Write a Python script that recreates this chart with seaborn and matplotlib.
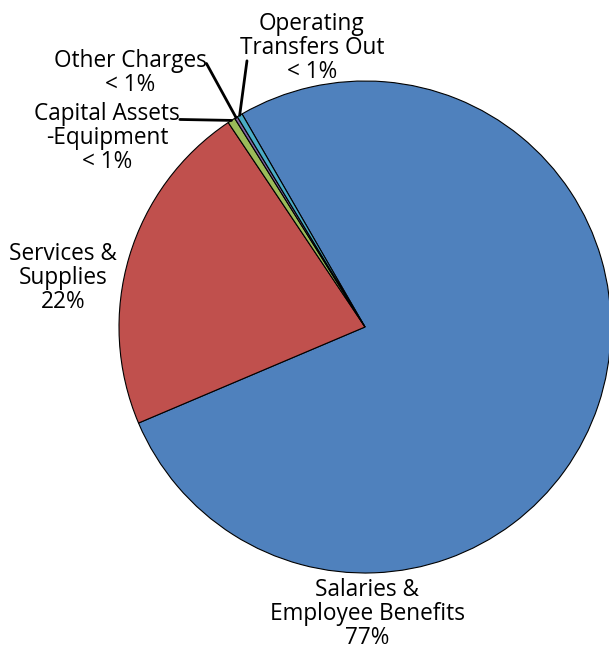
import numpy as np
import matplotlib
matplotlib.use("Agg")
import matplotlib.pyplot as plt
import seaborn as sns

# Budget shares by expenditure category (percent)
categories = [
    "Salaries &\nEmployee Benefits",
    "Services &\nSupplies",
    "Capital Assets\n-Equipment",
    "Other Charges",
    "Operating\nTransfers Out",
]
shares = [76.95, 22.0, 0.50, 0.20, 0.35]
share_labels = ["77%", "22%", "< 1%", "< 1%", "< 1%"]
colors = ["#4F81BD", "#C0504D", "#9BBB59", "#8064A2", "#4BACC6"]

sns.set_theme(style="white")
plt.rcParams["font.family"] = ["Open Sans", "DejaVu Sans"]
plt.rcParams["text.color"] = "black"
FS = 16.3
LS = 0.98

W, H = 609, 652
fig = plt.figure(figsize=(W / 100, H / 100), dpi=100)
cx, cy, r = 365, 327, 246
ax = fig.add_axes([(cx - r) / W, (H - cy - r) / H, 2 * r / W, 2 * r / H])
ax.set_aspect("equal")
ax.axis("off")

wedges, _ = ax.pie(
    shares,
    colors=colors,
    startangle=120,
    counterclock=False,
    radius=1.0,
    wedgeprops=dict(edgecolor="black", linewidth=0.8),
)
ax.set_xlim(-1, 1)
ax.set_ylim(-1, 1)


def px(x, y):
    """Convert a pixel position to pie data coordinates."""
    return ((x - cx) / r, (cy - y) / r)


# label centres (pixels) and leader-line anchors on the text box
label_pos = [(367, 614), (63, 278), (107, 138), (130, 73), (312, 48)]
leader = [None, None, (1.0, 0.76), (1.0, 0.70), (0.05, 0.32)]

for w, cat, lab, pos, rel in zip(wedges, categories, share_labels, label_pos, leader):
    text = f"{cat}\n{lab}"
    tx, ty = px(*pos)
    if rel is None:
        ax.text(tx, ty, text, ha="center", va="center", fontsize=FS,
                linespacing=LS, color="black")
        continue
    mid = np.deg2rad((w.theta1 + w.theta2) / 2)
    ax.annotate(
        text,
        xy=(np.cos(mid), np.sin(mid)),
        xytext=(tx, ty),
        ha="center", va="center", fontsize=FS, linespacing=LS,
        color="black", annotation_clip=False,
        arrowprops=dict(arrowstyle="-", color="black", lw=2, relpos=rel,
                        patchA=None, shrinkA=0, shrinkB=0),
    )

fig.savefig("out.png", dpi=100, facecolor="white")
